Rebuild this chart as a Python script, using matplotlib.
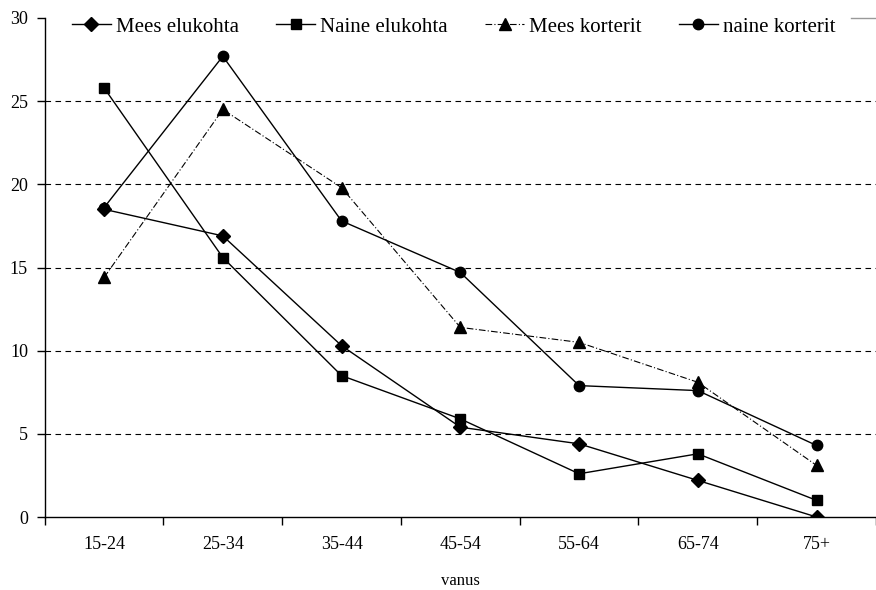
import matplotlib
matplotlib.use("Agg")
import matplotlib.pyplot as plt
import numpy as np

categories = ["15-24", "25-34", "35-44", "45-54", "55-64", "65-74", "75+"]
mees_elukohta = [18.5, 16.9, 10.3, 5.4, 4.4, 2.2, 0.0]
naine_elukohta = [25.8, 15.6, 8.5, 5.9, 2.6, 3.8, 1.0]
mees_korterit = [14.4, 24.5, 19.8, 11.4, 10.5, 8.1, 3.1]
naine_korterit = [18.6, 27.7, 17.8, 14.7, 7.9, 7.6, 4.3]
yticks = [0, 5, 10, 15, 20, 25, 30]

plt.rcParams['font.family'] = ['Liberation Serif', 'DejaVu Serif']

fig = plt.figure(figsize=(8.76, 5.90), dpi=100)
ax = fig.add_axes([0.051, 0.1237, 0.949, 0.9695 - 0.1237])

x = np.arange(len(categories))
for yv in yticks[1:-1]:
    ax.axhline(yv, color='black', lw=0.8, ls=(0, (5, 4)), zorder=1)
ax.plot([0.97, 1.0], [30, 30], transform=ax.get_yaxis_transform(), color='#999999', lw=1, clip_on=False)

l1, = ax.plot(x, mees_elukohta, color='black', lw=1, marker='D', ms=7, label='Mees elukohta', zorder=3)
l2, = ax.plot(x, naine_elukohta, color='black', lw=1, marker='s', ms=7.5, label='Naine elukohta', zorder=3)
l3, = ax.plot(x, mees_korterit, color='black', lw=0.8, ls=(0, (6, 2, 1, 2)), marker='^', ms=9, label='Mees korterit', zorder=3)
l4, = ax.plot(x, naine_korterit, color='black', lw=1, marker='o', ms=7.5, label='naine korterit', zorder=3)

ax.set_xlim(-0.5, 6.5)
ax.set_ylim(0, 30)
ax.set_yticks(yticks)
ax.set_xticks(x)
ax.set_xticklabels(categories)
ax.set_xticks(np.arange(-0.5, 7, 1), minor=True)
ax.tick_params(axis='x', which='major', length=0, pad=14, labelsize=13)
ax.tick_params(axis='x', which='minor', length=6, width=1, direction='out')
ax.tick_params(axis='y', length=6, width=1, direction='out', labelsize=13, pad=6)
for s in ['top', 'right']:
    ax.spines[s].set_visible(False)
ax.spines['left'].set_linewidth(1)
ax.spines['bottom'].set_linewidth(1)
ax.set_xlabel('vanus', fontsize=12, labelpad=14)

leg = ax.legend(handles=[l1, l2, l3, l4], loc='center left', bbox_to_anchor=(0.033, 0.982), ncol=4,
                frameon=True, fontsize=15, handlelength=1.85, columnspacing=1.8, handletextpad=0.25,
                borderaxespad=0, borderpad=0)
leg.get_frame().set_edgecolor('white')
leg.get_frame().set_facecolor('white')
leg.get_frame().set_alpha(1)
leg.set_zorder(5)

fig.savefig('out.png', dpi=100)
